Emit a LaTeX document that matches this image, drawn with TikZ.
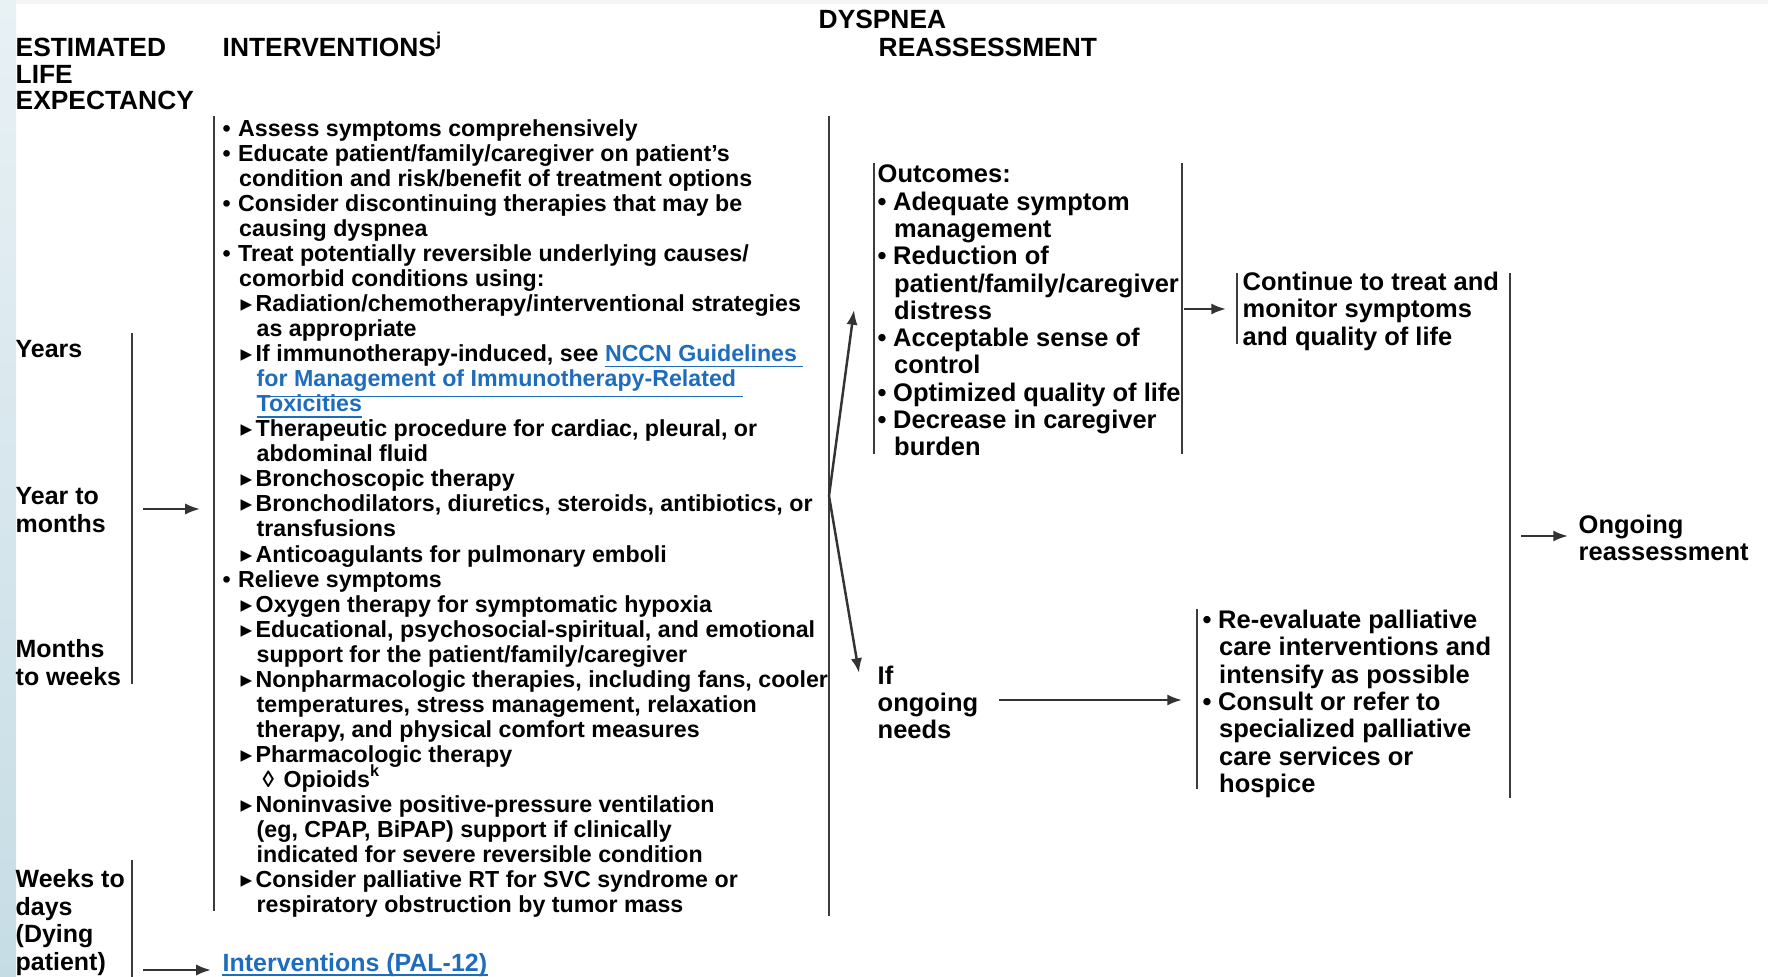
\documentclass[tikz,border=0pt]{standalone}
\usepackage{fontspec}
\setmainfont{Liberation Sans}
\newfontfamily\symfont{DejaVu Sans}
\usetikzlibrary{arrows.meta,positioning}
\definecolor{linkblue}{RGB}{30,108,188}
\definecolor{stripblue}{RGB}{198,220,229}
\definecolor{barcolor}{RGB}{60,60,60}
\newcommand{\lvone}{\makebox[0.155cm][l]{\textbullet}}
\newcommand{\contone}{\hspace*{0.165cm}}
\newcommand{\lvtwo}{\hspace*{0.18cm}\makebox[0.15cm][l]{{\symfont ▸}}}
\newcommand{\conttwo}{\hspace*{0.34cm}}
\newcommand{\lvthree}{\hspace*{0.40cm}\makebox[0.21cm][l]{◊}}
\newcommand{\lnk}[1]{\textcolor{linkblue}{\smash{\underline{#1}}}}

\begin{document}
\begin{tikzpicture}[
    head/.style={inner sep=0pt, font=\fontsize{7.5}{7.55}\selectfont\bfseries, align=left},
    life/.style={inner sep=0pt, font=\fontsize{7.1}{7.85}\selectfont\bfseries, align=left},
    body/.style={inner sep=0pt, font=\fontsize{6.6}{7.13}\selectfont\bfseries, align=left},
    box/.style={inner sep=0pt, font=\fontsize{7.25}{7.76}\selectfont\bfseries, align=left},
    bar/.style={draw=barcolor, line width=0.6pt},
    arrow/.style={-{Latex[length=4.2pt,width=3.2pt]}, line width=0.7pt, draw=black!80}
]

% Canvas
\useasboundingbox (0,0) rectangle (17.68,-9.77);
\fill[black!4] (0,0) rectangle (17.68,-0.04);
\shade[top color=white!60!stripblue, bottom color=stripblue] (0,0) rectangle (0.16,-9.77);

% Headers
\node[head, anchor=north west] (est) at (0.15,-0.375) {ESTIMATED\\LIFE\\EXPECTANCY};
\node[head, anchor=base west] (intvhead) at (2.22,-0.565) {INTERVENTIONS\textsuperscript{j}};
\node[head, anchor=base west] (dysp) at (8.18,-0.285) {DYSPNEA};
\node[head, anchor=base west] (reass) at (8.78,-0.565) {REASSESSMENT};

% Life expectancy
\node[life, anchor=base west] (years) at (0.15,-3.58) {Years};
\node[life, anchor=north west] (yrmonths) at (0.15,-4.87) {Year to\\months};
\node[life, anchor=north west] (moweeks) at (0.15,-6.39) {Months\\to weeks};
\node[life, anchor=north west] (wkdays) at (0.15,-8.69) {Weeks to\\days\\(Dying\\patient)};

\coordinate (lbar1t) at (1.32,-3.33);
\coordinate (lbar1b) at (1.32,-6.84);
\coordinate (lbar2t) at (1.32,-8.60);
\coordinate (lbar2b) at (1.32,-9.77);
\draw[bar] (lbar1t) -- (lbar1b);
\draw[bar] (lbar2t) -- (lbar2b);

% Interventions
\node[body, anchor=north west] (intv) at (2.22,-1.185) {%
\lvone Assess symptoms comprehensively\\
\lvone Educate patient/family/caregiver on patient's\\
\contone condition and risk/benefit of treatment options\\
\lvone Consider discontinuing therapies that may be\\
\contone causing dyspnea\\
\lvone Treat potentially reversible underlying causes/\\
\contone comorbid conditions using:\\
\lvtwo Radiation/chemotherapy/interventional strategies\\
\conttwo as appropriate\\
\lvtwo If immunotherapy-induced, see \lnk{NCCN Guidelines }\\
\conttwo \lnk{for Management of Immunotherapy-Related }\\
\conttwo \lnk{Toxicities}\\
\lvtwo Therapeutic procedure for cardiac, pleural, or\\
\conttwo abdominal fluid\\
\lvtwo Bronchoscopic therapy\\
\lvtwo Bronchodilators, diuretics, steroids, antibiotics, or\\
\conttwo transfusions\\
\lvtwo Anticoagulants for pulmonary emboli\\
\lvone Relieve symptoms\\
\lvtwo Oxygen therapy for symptomatic hypoxia\\
\lvtwo Educational, psychosocial-spiritual, and emotional\\
\conttwo support for the patient/family/caregiver\\
\lvtwo Nonpharmacologic therapies, including fans, cooler\\
\conttwo temperatures, stress management, relaxation\\
\conttwo therapy, and physical comfort measures\\
\lvtwo Pharmacologic therapy\\
\lvthree Opioids\smash{\textsuperscript{k}}\\
\lvtwo Noninvasive positive-pressure ventilation\\
\conttwo (eg, CPAP, BiPAP) support if clinically\\
\conttwo indicated for severe reversible condition\\
\lvtwo Consider palliative RT for SVC syndrome or\\
\conttwo respiratory obstruction by tumor mass};

\coordinate (intvLt) at (2.14,-1.16);
\coordinate (intvLb) at (2.14,-9.11);
\coordinate (intvRt) at (8.29,-1.16);
\coordinate (intvRb) at (8.29,-9.16);
\draw[bar] (intvLt) -- (intvLb);
\draw[bar] (intvRt) -- (intvRb);

\node[life, anchor=base west, text=linkblue] (pal) at (2.22,-9.71) {Interventions (PAL-12)};
\draw[linkblue, line width=0.5pt] ([yshift=-0.042cm]pal.base west) -- ([yshift=-0.042cm]pal.base east);

% Outcomes
\node[box, anchor=north west] (outc) at (8.77,-1.645) {Outcomes:\\
\lvone Adequate symptom\\
\contone management\\
\lvone Reduction of\\
\contone patient/family/caregiver\\
\contone distress\\
\lvone Acceptable sense of\\
\contone control\\
\lvone Optimized quality of life\\
\lvone Decrease in caregiver\\
\contone burden};

\coordinate (outcLt) at (8.74,-1.63);
\coordinate (outcLb) at (8.74,-4.54);
\coordinate (outcRt) at (11.82,-1.63);
\coordinate (outcRb) at (11.82,-4.54);
\draw[bar] (outcLt) -- (outcLb);
\draw[bar] (outcRt) -- (outcRb);

\node[box, anchor=north west] (cont) at (12.42,-2.715) {Continue to treat and\\monitor symptoms\\and quality of life};
\coordinate (contLt) at (12.37,-2.73);
\coordinate (contLb) at (12.37,-3.44);
\draw[bar] (contLt) -- (contLb);

% Ongoing needs
\node[box, anchor=north west] (ifneeds) at (8.77,-6.65) {If\\ongoing\\needs};

\node[box, anchor=north west] (reeval) at (12.02,-6.095) {%
\lvone Re-evaluate palliative\\
\contone care interventions and\\
\contone intensify as possible\\
\lvone Consult or refer to\\
\contone specialized palliative\\
\contone care services or\\
\contone hospice};
\coordinate (reevLt) at (11.97,-6.09);
\coordinate (reevLb) at (11.97,-7.89);
\draw[bar] (reevLt) -- (reevLb);

\coordinate (bigRt) at (15.10,-2.73);
\coordinate (bigRb) at (15.10,-7.98);
\draw[bar] (bigRt) -- (bigRb);

\node[box, anchor=north west] (ongo) at (15.78,-5.145) {Ongoing\\reassessment};

% Arrows
\coordinate (a1s) at (1.43,-5.09);
\coordinate (a1e) at (2.00,-5.09);
\coordinate (a2s) at (1.43,-9.70);
\coordinate (a2e) at (2.11,-9.70);
\coordinate (fork) at (8.29,-4.96);
\coordinate (upend) at (8.54,-3.10);
\coordinate (downend) at (8.59,-6.73);
\coordinate (a3s) at (11.84,-3.09);
\coordinate (a3e) at (12.26,-3.09);
\coordinate (a4s) at (9.99,-7.00);
\coordinate (a4e) at (11.82,-7.00);
\coordinate (a5s) at (15.21,-5.36);
\coordinate (a5e) at (15.68,-5.36);
\foreach \source/\dest in {a1s/a1e, a2s/a2e, fork/upend, fork/downend, a3s/a3e, a4s/a4e, a5s/a5e} {
    \draw[arrow] (\source) -- (\dest);
}

\end{tikzpicture}
\end{document}
